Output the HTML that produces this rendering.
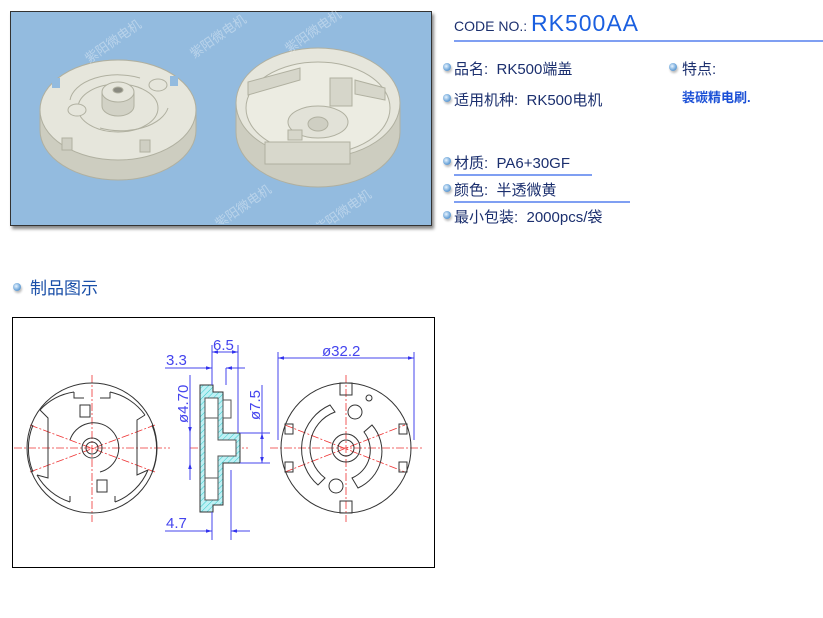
<!DOCTYPE html>
<html><head><meta charset="utf-8"><style>
body{margin:0;width:823px;height:618px;background:#fff;position:relative;overflow:hidden;font-family:"Liberation Sans","Noto Sans CJK SC",sans-serif}
.t{position:absolute;font-size:14px;color:#1b2f6e;white-space:nowrap}
.b{position:absolute;width:8px;height:8px;border-radius:50%;background:radial-gradient(circle at 40% 40%,#e8f4ff,#6aa3d8 60%,#4a7fb8);box-shadow:1px 2px 2px #bbb}
.hl{position:absolute;height:2px;background:#7f9ff2}
</style></head><body>
<div style="position:absolute;left:10px;top:11px;width:420px;height:213px;background:#93bbdf;border:1px solid #333;box-shadow:2px 3px 3px #888"></div>
<svg style="position:absolute;left:0;top:0" width="440" height="240">
<g fill="#e6e6dc" stroke="#b0b0a0" stroke-width="1">
<path d="M40 110 A78 50 0 0 1 196 110 L196 130 A78 50 0 0 1 40 130 Z" fill="#cdcdc0"/>
<ellipse cx="118" cy="110" rx="78" ry="50"/>
<path d="M70 100 A48 28 0 0 1 140 78" fill="none"/>
<path d="M100 128 A48 28 0 0 0 168 108" fill="none"/>
<ellipse cx="118" cy="108" rx="40" ry="24" fill="none"/>
<path d="M102 92 L102 106 A16 10 0 0 0 134 106 L134 92" fill="#d2d2c6"/>
<ellipse cx="118" cy="92" rx="16" ry="10"/>
<ellipse cx="118" cy="90" rx="5" ry="3" fill="#8a8a80"/>
<ellipse cx="158" cy="85" rx="9" ry="6"/>
<ellipse cx="77" cy="110" rx="9" ry="6"/>
<rect x="62" y="138" width="10" height="12" fill="#cfcfc3"/>
<rect x="140" y="140" width="10" height="12" fill="#cfcfc3"/>
<rect x="52" y="78" width="8" height="10" fill="#93bbdf" stroke="none"/>
<rect x="170" y="76" width="8" height="10" fill="#93bbdf" stroke="none"/>
<path d="M236 108 A82 55 0 0 1 400 108 L400 132 A82 55 0 0 1 236 132 Z" fill="#cdcdc0"/>
<ellipse cx="318" cy="103" rx="82" ry="55"/>
<ellipse cx="318" cy="108" rx="72" ry="46" fill="#ececE2"/>
<path d="M248 95 L248 82 L300 68 L300 80 Z" fill="#d6d6ca"/>
<rect x="330" y="78" width="22" height="28" fill="#d6d6ca"/>
<path d="M355 80 L385 88 L385 100 L355 94 Z" fill="#d6d6ca"/>
<ellipse cx="318" cy="122" rx="30" ry="16" fill="#e2e2d8"/>
<ellipse cx="318" cy="124" rx="10" ry="7" fill="#cfcfc3"/>
<rect x="288" y="130" width="14" height="10" fill="#d6d6ca"/>
<rect x="265" y="142" width="85" height="22" fill="#d8d8cc"/>
</g>
</svg>
<div style="position:absolute;left:10px;top:11px;width:420px;height:213px;font-size:13px;color:rgba(255,255,255,.35);overflow:hidden">
<span style="position:absolute;left:70px;top:20px;transform:rotate(-35deg)">紫阳微电机</span>
<span style="position:absolute;left:175px;top:15px;transform:rotate(-35deg)">紫阳微电机</span>
<span style="position:absolute;left:270px;top:10px;transform:rotate(-35deg)">紫阳微电机</span>
<span style="position:absolute;left:200px;top:185px;transform:rotate(-35deg)">紫阳微电机</span>
<span style="position:absolute;left:300px;top:190px;transform:rotate(-35deg)">紫阳微电机</span>
</div>

<div class="t" style="left:454px;top:10px;font-size:14px">CODE NO.: <span style="font-size:23px;color:#1a5fe0;letter-spacing:1px">RK500AA</span></div>
<div class="hl" style="left:454px;top:40px;width:369px"></div>
<div class="b" style="left:443px;top:63px"></div><div class="t" style="left:454px;top:58px;font-size:15px">品名:&nbsp; RK500端盖</div>
<div class="b" style="left:443px;top:94px"></div><div class="t" style="left:454px;top:89px;font-size:15px">适用机种:&nbsp; RK500电机</div>
<div class="b" style="left:669px;top:63px"></div><div class="t" style="left:682px;top:58px;font-size:15px">特点:</div>
<div class="t" style="left:682px;top:87px;color:#1a4fd6;font-weight:bold;font-size:13px">装碳精电刷.</div>
<div class="b" style="left:443px;top:157px"></div><div class="t" style="left:454px;top:152px;font-size:15px">材质:&nbsp; PA6+30GF</div>
<div class="hl" style="left:454px;top:174px;width:138px"></div>
<div class="b" style="left:443px;top:184px"></div><div class="t" style="left:454px;top:179px;font-size:15px">颜色:&nbsp; 半透微黄</div>
<div class="hl" style="left:454px;top:201px;width:176px"></div>
<div class="b" style="left:443px;top:211px"></div><div class="t" style="left:454px;top:206px;font-size:15px">最小包装:&nbsp; 2000pcs/袋</div>

<div class="b" style="left:13px;top:283px"></div>
<div class="t" style="left:30px;top:274px;font-size:17px;color:#1a4fa8">制品图示</div>

<div style="position:absolute;left:12px;top:317px;width:421px;height:249px;border:1px solid #000"></div>
<svg style="position:absolute;left:0;top:0" width="823" height="618" font-family="Liberation Sans">
<defs>
<pattern id="h" width="4" height="4" patternUnits="userSpaceOnUse" patternTransform="rotate(45)"><rect width="4" height="4" fill="#bff0f4"/><line x1="0" y1="0" x2="0" y2="4" stroke="#3cc" stroke-width="1"/></pattern>
<marker id="a" viewBox="0 0 10 10" refX="10" refY="5" markerWidth="8" markerHeight="6" orient="auto-start-reverse"><path d="M0 2L10 5L0 8Z" fill="#33e"/></marker>
</defs>
<g stroke="#e33" stroke-width="0.8" stroke-dasharray="8,2,2,2" fill="none">
<line x1="14" y1="448" x2="170" y2="448"/><line x1="92" y1="375" x2="92" y2="522"/>
<line x1="30" y1="425" x2="155" y2="472"/><line x1="30" y1="472" x2="155" y2="425"/>
<line x1="270" y1="448" x2="422" y2="448"/><line x1="346" y1="375" x2="346" y2="522"/>
<line x1="285" y1="425" x2="405" y2="472"/><line x1="285" y1="472" x2="405" y2="425"/>
<line x1="190" y1="448" x2="248" y2="448"/>
</g>
<g stroke="#333" stroke-width="1" fill="none">
<circle cx="92" cy="448" r="65"/>
<path d="M40 410 A58 58 0 0 1 74 392 M110 392 A58 58 0 0 1 145 415 M148 470 A58 58 0 0 1 115 502 M70 502 A58 58 0 0 1 37 475"/>
<path d="M33 425 A62 62 0 0 0 33 472 M152 425 A62 62 0 0 1 152 472"/>
<path d="M74 392 L74 398 L84 398 M110 392 L110 398 L100 398 M70 502 L70 496 M115 502 L115 496"/>
<path d="M40 410 L48 418 L48 478 L37 475 M145 415 L137 420 L137 475 L148 470"/>
<circle cx="92" cy="448" r="10"/><circle cx="92" cy="448" r="6"/>
<path d="M70 440 A25 25 0 1 1 100 472"/>
<rect x="80" y="405" width="10" height="12"/><rect x="97" y="480" width="10" height="12"/>
<circle cx="346" cy="448" r="65"/>
<circle cx="346" cy="448" r="14"/><circle cx="346" cy="448" r="8"/>
<path d="M330 405 A48 48 0 0 0 318 485 L325 478 A38 38 0 0 1 335 412 Z"/>
<path d="M372 425 A40 40 0 0 1 358 488 L352 478 A30 30 0 0 0 364 432 Z"/>
<circle cx="355" cy="412" r="7"/><circle cx="336" cy="486" r="7"/><circle cx="369" cy="398" r="3"/>
<rect x="340" y="383" width="12" height="12"/><rect x="340" y="501" width="12" height="12"/>
<rect x="285" y="424" width="8" height="10"/><rect x="285" y="462" width="8" height="10"/>
<rect x="399" y="424" width="8" height="10"/><rect x="399" y="462" width="8" height="10"/>
</g>
<path d="M200 385 L213 385 L213 392 L223 392 L223 433 L240 433 L240 463 L223 463 L223 505 L213 505 L213 512 L200 512 Z" fill="url(#h)" stroke="#333"/>
<path d="M205 398 L218 398 L218 440 L236 440 L236 456 L218 456 L218 500 L205 500 Z" fill="#fff" stroke="#555"/>
<line x1="205" y1="418" x2="218" y2="418" stroke="#555"/><line x1="205" y1="478" x2="218" y2="478" stroke="#555"/>
<rect x="223" y="400" width="8" height="18" fill="#fff" stroke="#555"/>
<g stroke="#44e" stroke-width="1" fill="none">
<line x1="212" y1="345" x2="212" y2="385"/><line x1="238" y1="345" x2="238" y2="433"/>
<line x1="212" y1="352" x2="238" y2="352" marker-start="url(#a)" marker-end="url(#a)"/>
<line x1="165" y1="368" x2="212" y2="368" marker-end="url(#a)"/>
<line x1="245" y1="368" x2="226" y2="368" marker-end="url(#a)"/>
<line x1="226" y1="368" x2="226" y2="385"/>
<line x1="190" y1="375" x2="190" y2="480"/>
<line x1="190" y1="420" x2="190" y2="433" marker-end="url(#a)"/>
<line x1="190" y1="476" x2="190" y2="463" marker-end="url(#a)"/>
<line x1="262" y1="385" x2="262" y2="463"/>
<line x1="262" y1="445" x2="262" y2="433" marker-end="url(#a)"/>
<line x1="262" y1="451" x2="262" y2="463" marker-end="url(#a)"/>
<line x1="240" y1="433" x2="270" y2="433"/><line x1="240" y1="463" x2="270" y2="463"/>
<line x1="165" y1="531" x2="212" y2="531" marker-end="url(#a)"/>
<line x1="250" y1="531" x2="231" y2="531" marker-end="url(#a)"/>
<line x1="212" y1="512" x2="212" y2="540"/><line x1="231" y1="470" x2="231" y2="540"/>
<line x1="278" y1="358" x2="414" y2="358" marker-start="url(#a)" marker-end="url(#a)"/>
<line x1="278" y1="352" x2="278" y2="440"/><line x1="414" y1="352" x2="414" y2="440"/>
</g>
<g fill="#44e" font-size="15">
<text x="166" y="365">3.3</text>
<text x="213" y="350">6.5</text>
<text x="166" y="528">4.7</text>
<text x="322" y="356">ø32.2</text>
<text transform="translate(188,423) rotate(-90)">ø4.70</text>
<text transform="translate(260,420) rotate(-90)">ø7.5</text>
</g>
</svg>
</body></html>
